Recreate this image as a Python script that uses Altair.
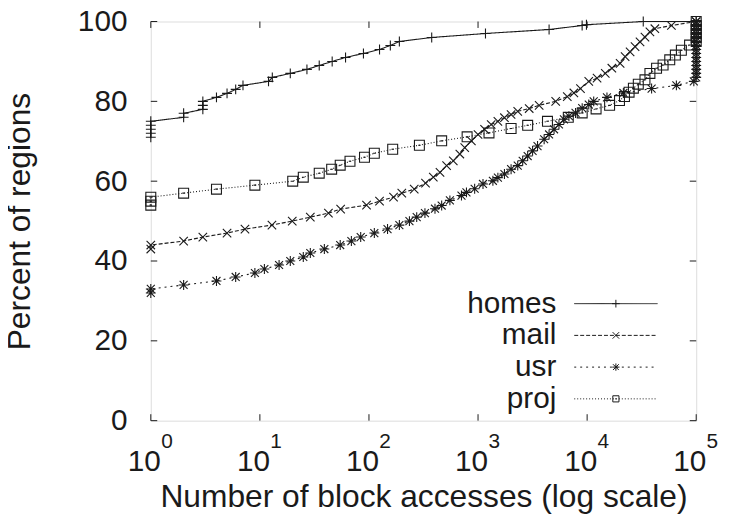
import altair as alt
import pandas as pd

FONT = "Liberation Sans"
INK = "#1a1a1a"

# ---------------- data ----------------
series_names = ["homes", "mail", "usr", "proj"]

homes_x = [1, 1, 1, 1, 1, 2, 2, 3, 3, 3, 4, 5, 6, 7, 12, 13, 19, 27, 35, 46, 61, 89,
           125, 157, 190, 376, 1170, 4480, 9000, 9860, 32700, 100000]
homes_y = [71, 72, 73, 74, 75, 76, 77, 78, 79, 80, 81, 82, 83, 84, 85, 86, 87, 88, 89, 90, 91, 92,
           93, 94, 95, 96, 97, 98, 99, 99.2, 100, 100]

mail_x = [1, 1, 2, 3, 5, 7.3, 12.9, 19.8, 29, 42.5, 55, 95, 125, 168, 200, 260, 330, 389, 448,
          515, 593, 681, 755, 869, 1000, 1148, 1320, 1520, 1746, 2009, 2311, 2944, 3633, 5150,
          6580, 7560, 8690, 10350, 12330, 14670, 16860, 20070, 22300, 24770, 27500, 30540,
          33900, 37640, 41790, 59250, 100000]
mail_y = [43, 44, 45, 46, 47, 48, 49, 50, 51, 52, 53, 54, 55, 56, 57, 58, 59.5, 61, 62.2,
          63.9, 65.1, 66.8, 68.4, 70.1, 71.7, 73, 74.2, 75, 75.9, 76.7, 77.5, 78.2, 79, 80,
          81.2, 82.1, 83.2, 85, 85.8, 87, 88.3, 89.5, 91.2, 92.4, 93.7, 94.9,
          96.1, 97.4, 98.2, 99, 100]

usr_x = [1, 1, 2, 4, 6, 9, 11, 15, 19, 25, 29, 39, 54.5, 69, 84, 112, 148, 190, 235, 274, 326,
         403, 464, 552, 705, 783, 931, 1110, 1368, 1520, 1746, 2009, 2311, 2566, 2850, 3162,
         3510, 4036, 4480, 4975, 5520, 6130, 6810, 7830, 9010, 10350, 11490, 15200, 21500,
         39000, 65800, 95100,
         100000, 100000, 100000, 100000, 100000, 100000, 100000, 100000, 100000, 100000,
         100000, 100000, 100000, 100000, 100000]
usr_y = [32, 33, 34, 35, 36, 37, 38, 39, 40, 41, 42, 43, 44, 45, 46, 47, 48, 49, 50, 51, 52,
         53.1, 53.9, 55.2, 56.4, 57.2, 58.1, 59.3, 60.1, 60.9, 61.8, 63, 63.9, 65.1, 66.3, 67.6,
         68.8, 70.5, 71.7, 73, 74.2, 75.5, 76.3, 77.1, 78.3, 79.2, 80, 81, 82.1,
         83.2, 84, 85,
         86, 87, 88, 89, 90, 91, 92, 93, 94, 95,
         96, 97, 98, 99, 100]

proj_x = [1, 1, 1, 2, 4, 9, 20, 25, 35, 45.5, 54.5, 67, 91, 112, 165, 290, 464, 794, 1260,
          2009, 2850, 4330, 6720, 9010, 12080, 16070, 19800, 22000, 24250, 26550, 29450,
          33900, 37640, 43300, 49700, 57200, 64400, 73100, 86900,
          100000, 100000, 100000, 100000, 100000, 100000]
proj_y = [54, 55, 56, 57, 58, 59, 60, 61, 62, 63, 64, 65, 66, 67, 68, 69, 70.1, 71.1, 72.1,
          73.2, 74, 75, 76, 77.1, 78.1, 79, 80.2, 81.2, 82.3, 83.3, 84.3,
          85.4, 87, 88.3, 89.1, 90.4, 91.6, 92.8, 94.1,
          95, 96, 97, 98, 99, 100]

x_ticks = [1, 10, 100, 1000, 10000, 100000]
x_exponents = ["0", "1", "2", "3", "4", "5"]
y_ticks = [0, 20, 40, 60, 80, 100]

# ---------------- styles ----------------
dashes = [[1, 0], [4, 2], [2, 4], [1, 2]]
marker_paths = [
    "M-1,0L1,0M0,-1L0,1",
    "M-0.85,-0.85L0.85,0.85M-0.85,0.85L0.85,-0.85",
    "M-1,0L1,0M0,-1L0,1M-0.8,-0.8L0.8,0.8M-0.8,0.8L0.8,-0.8",
    "M-1,-1L1,-1L1,1L-1,1ZM-0.25,0L0.25,0",
]
marker_sizes = [100, 100, 90, 64]

W, H = 550, 402.5
TICK = 6.5

rows = []
for name, xs, ys in [("homes", homes_x, homes_y), ("mail", mail_x, mail_y),
                     ("usr", usr_x, usr_y), ("proj", proj_x, proj_y)]:
    for i, (xv, yv) in enumerate(zip(xs, ys)):
        rows.append({"series": name, "x": xv, "y": yv, "order": i})
df = pd.DataFrame(rows)

xscale = alt.Scale(type="log", domain=[1, 100000], nice=False)
yscale = alt.Scale(domain=[0, 100], nice=False, zero=False)

x_axis = alt.Axis(
    values=x_ticks, labelExpr="'10'", ticks=False, domain=False, grid=False,
    labelFont=FONT, labelFontSize=30, labelFontWeight="normal", labelColor=INK,
    labelFlush=False, labelOverlap=False, labelBaseline="alphabetic",
    labelPadding=50, labelOffset=-7,
    title="Number of block accesses (log scale)", titleFont=FONT, titleFontSize=32,
    titleFontWeight="normal", titleColor=INK, titleBaseline="alphabetic",
    titleY=87, titleX=W / 2,
)
y_axis = alt.Axis(
    values=y_ticks, ticks=False, domain=False, grid=False,
    labelFont=FONT, labelFontSize=30, labelFontWeight="normal", labelColor=INK,
    labelFlush=False, labelPadding=24, labelOverlap=False,
    title="Percent of regions", titleFont=FONT, titleFontSize=32,
    titleFontWeight="normal", titleColor=INK, titleBaseline="alphabetic",
    titleX=-122.5, titleY=H / 2, titleAngle=270,
)

X = alt.X("x:Q", scale=xscale, axis=x_axis)
Y = alt.Y("y:Q", scale=yscale, axis=y_axis)

base = alt.Chart(df).encode(x=X, y=Y)

lines = base.mark_line(color=INK, strokeWidth=1.1).encode(
    strokeDash=alt.StrokeDash("series:N", scale=alt.Scale(domain=series_names, range=dashes), legend=None),
    order="order:Q",
)

points = base.mark_point(filled=False, color=INK, strokeWidth=1.1, opacity=1).encode(
    shape=alt.Shape("series:N", scale=alt.Scale(domain=series_names, range=marker_paths), legend=None),
    size=alt.Size("series:N", scale=alt.Scale(domain=series_names, range=marker_sizes), legend=None),
)

xt = pd.DataFrame({"x": x_ticks, "e": x_exponents})
yt = pd.DataFrame({"y": y_ticks})

xt_bottom = alt.Chart(xt).mark_rule(color=INK, strokeWidth=1).encode(
    x=X, y=alt.value(H), y2=alt.value(H - TICK))
xt_top = alt.Chart(xt).mark_rule(color=INK, strokeWidth=1).encode(
    x=X, y=alt.value(0), y2=alt.value(TICK))
yt_left = alt.Chart(yt).mark_rule(color=INK, strokeWidth=1).encode(
    y=Y, x=alt.value(0), x2=alt.value(TICK))
yt_right = alt.Chart(yt).mark_rule(color=INK, strokeWidth=1).encode(
    y=Y, x=alt.value(W), x2=alt.value(W - TICK))

exponents = alt.Chart(xt).mark_text(
    font=FONT, fontSize=21, color=INK, align="left", baseline="alphabetic", dx=10.5
).encode(x=X, y=alt.value(H + 28), text="e:N")

# ---------------- legend (inside, bottom right) ----------------
legend_rows = [284.5, 316.5, 348.5, 380.5]
legend_layers = []
for name, ly, dash, path, sz in zip(series_names, legend_rows, dashes, marker_paths, marker_sizes):
    ld = pd.DataFrame({"t": [name]})
    legend_layers.append(alt.Chart(ld).mark_text(
        font=FONT, fontSize=30, color=INK, align="right", baseline="middle"
    ).encode(x=alt.value(409), y=alt.value(ly), text="t:N"))
    legend_layers.append(alt.Chart(ld).mark_rule(
        color=INK, strokeWidth=1, strokeDash=dash
    ).encode(x=alt.value(427), x2=alt.value(511), y=alt.value(ly)))
    legend_layers.append(alt.Chart(ld).mark_point(
        shape=path, size=sz * 0.6, filled=False, color=INK, strokeWidth=1, opacity=1
    ).encode(x=alt.value(469), y=alt.value(ly)))

chart = alt.layer(
    lines, points, xt_bottom, xt_top, yt_left, yt_right, exponents, *legend_layers
).properties(
    width=W, height=H,
    autosize=alt.AutoSizeParams(type="none"),
    padding={"left": 144, "top": 11.5, "right": 25, "bottom": 93},
).configure_view(
    stroke=INK, strokeWidth=1.3
).configure(background="white")

chart.save("out.html", embed_options={"renderer": "svg", "actions": False})
